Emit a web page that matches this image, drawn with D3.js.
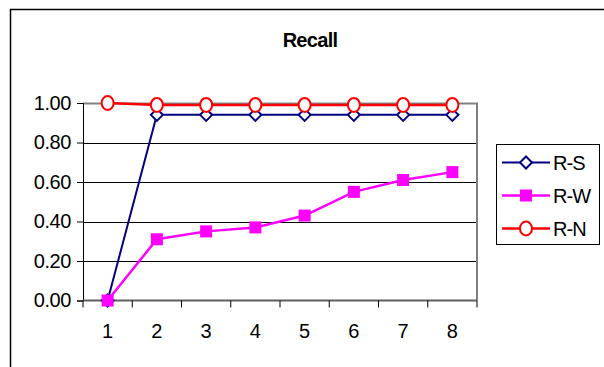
<!DOCTYPE html>
<html>
<head>
<meta charset="utf-8">
<script src="https://cdn.jsdelivr.net/npm/d3@7"></script>
<style>
  html, body { margin: 0; padding: 0; background: #fff; }
  svg { display: block; }
  text { font-family: Arial, "Liberation Sans", sans-serif; fill: #000; }
</style>
</head>
<body>
<svg id="chart" width="604" height="367"></svg>
<script>
// Recall values per round
const categories = ["1", "2", "3", "4", "5", "6", "7", "8"];
const rS = [0.00, 0.94, 0.94, 0.94, 0.94, 0.94, 0.94, 0.94];
const rW = [0.00, 0.31, 0.35, 0.37, 0.43, 0.55, 0.61, 0.65];
const rN = [1.00, 0.99, 0.99, 0.99, 0.99, 0.99, 0.99, 0.99];
const yTicks = [0, 0.2, 0.4, 0.6, 0.8, 1.0];
const seriesNames = ["R-S", "R-W", "R-N"];

const series = [
  { name: seriesNames[0], values: rS, color: "#000080", marker: "diamond", width: 2 },
  { name: seriesNames[1], values: rW, color: "#FF00FF", marker: "square", width: 2.5 },
  { name: seriesNames[2], values: rN, color: "#FF0000", marker: "circle", width: 2.5 }
];

const FONT = "Arial, 'Liberation Sans', sans-serif";
const svg = d3.select("#chart");

// outer chart frame
svg.append("rect")
  .attr("x", 10.5).attr("y", 9.5)
  .attr("width", 700).attr("height", 500)
  .attr("fill", "#fff").attr("stroke", "#000").attr("stroke-width", 1.5);

const plot = { left: 83, right: 477, top: 103, bottom: 300.5 };

const x = d3.scaleBand().domain(categories).range([plot.left, plot.right]);
const y = d3.scaleLinear().domain([0, 1]).range([plot.bottom, plot.top]);

// title
svg.append("text")
  .attr("x", 310).attr("y", 47)
  .attr("text-anchor", "middle")
  .attr("font-size", 20).attr("font-weight", "bold")
  .attr("letter-spacing", -0.7)
  .text("Recall");

// gridlines
svg.append("g")
  .selectAll("line")
  .data(yTicks.filter(d => d > 0))
  .join("line")
  .attr("x1", plot.left).attr("x2", plot.right)
  .attr("y1", d => Math.round(y(d)) + 0.5).attr("y2", d => Math.round(y(d)) + 0.5)
  .attr("stroke", "#000").attr("stroke-width", 1);

// plot border (top and right)
svg.append("path")
  .attr("d", `M${plot.left},${Math.round(y(1)) + 0.5}H${plot.right}V${plot.bottom}`)
  .attr("fill", "none").attr("stroke", "#808080").attr("stroke-width", 2);

// y axis
const yAxis = d3.axisLeft(y).tickValues(yTicks).tickFormat(d3.format(".2f"))
  .tickSize(6).tickPadding(6);
const gy = svg.append("g").attr("transform", `translate(${plot.left},0)`).call(yAxis);
gy.select(".domain").attr("stroke", "#000").attr("stroke-width", 1);
gy.selectAll(".tick line").attr("stroke", "#000");
gy.selectAll(".tick text")
  .attr("font-size", 20).attr("font-family", FONT).attr("fill", "#000")
  .attr("letter-spacing", -0.4);

// x axis with boundary tick marks between categories
const gx = svg.append("g").attr("transform", `translate(0,${plot.bottom})`);
gx.append("line")
  .attr("x1", plot.left).attr("x2", plot.right)
  .attr("y1", 0).attr("y2", 0)
  .attr("stroke", "#606060").attr("stroke-width", 2);
const bounds = d3.range(categories.length + 1).map(i => plot.left + i * x.bandwidth());
gx.selectAll("line.tick")
  .data(bounds)
  .join("line").attr("class", "tick")
  .attr("x1", d => d).attr("x2", d => d)
  .attr("y1", 0).attr("y2", 7)
  .attr("stroke", "#000").attr("stroke-width", 1);
gx.selectAll("text")
  .data(categories)
  .join("text")
  .attr("x", d => x(d) + x.bandwidth() / 2)
  .attr("y", 37.5)
  .attr("text-anchor", "middle")
  .attr("font-size", 20)
  .text(d => d);

// markers
function drawMarker(g, type, color) {
  if (type === "diamond") {
    g.append("path").attr("d", "M0,-6L6,0L0,6L-6,0Z")
      .attr("fill", "#fff").attr("stroke", color).attr("stroke-width", 2);
  } else if (type === "square") {
    g.append("rect").attr("x", -6).attr("y", -6).attr("width", 12).attr("height", 12)
      .attr("fill", color);
  } else {
    g.append("ellipse").attr("rx", 6).attr("ry", 7)
      .attr("fill", "#fff").attr("stroke", color).attr("stroke-width", 2);
  }
}

const line = d3.line()
  .x((d, i) => x(categories[i]) + x.bandwidth() / 2)
  .y(d => y(d));

series.forEach(s => {
  const g = svg.append("g");
  g.append("path").datum(s.values)
    .attr("d", line)
    .attr("fill", "none").attr("stroke", s.color).attr("stroke-width", s.width);
  s.values.forEach((v, i) => {
    const m = g.append("g")
      .attr("transform", `translate(${x(categories[i]) + x.bandwidth() / 2},${y(v)})`);
    drawMarker(m, s.marker, s.color);
  });
});

// legend
const legend = svg.append("g");
legend.append("rect")
  .attr("x", 496.5).attr("y", 144.5).attr("width", 103).attr("height", 100)
  .attr("fill", "#fff").attr("stroke", "#000").attr("stroke-width", 1);
series.forEach((s, i) => {
  const cy = 162.5 + i * 33;
  legend.append("line")
    .attr("x1", 502).attr("x2", 550).attr("y1", cy).attr("y2", cy)
    .attr("stroke", s.color).attr("stroke-width", s.width);
  drawMarker(legend.append("g").attr("transform", `translate(526,${cy})`), s.marker, s.color);
  legend.append("text")
    .attr("x", 553).attr("y", cy + 7)
    .attr("font-size", 20)
    .attr("letter-spacing", -0.9)
    .text(s.name);
});
</script>
</body>
</html>
